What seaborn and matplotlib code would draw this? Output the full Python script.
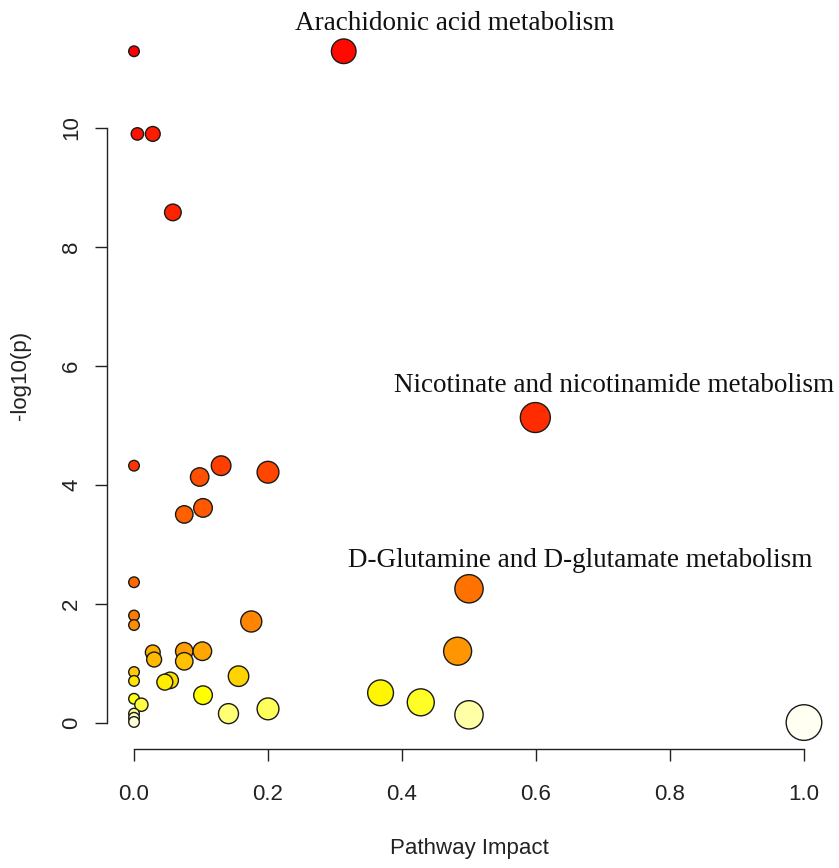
import colorsys

import numpy as np
import pandas as pd
import matplotlib
matplotlib.use("Agg")
import matplotlib.pyplot as plt
import seaborn as sns

# Pathway impact (x) and -log10(p) (y)
impact = [0.000, 0.313, 0.005, 0.028, 0.058, 0.599, 0.000, 0.130, 0.200, 0.098,
          0.103, 0.075, 0.000, 0.500, 0.000, 0.175, 0.000, 0.483, 0.075, 0.102,
          0.028, 0.030, 0.075, 0.000, 0.156, 0.000, 0.054, 0.046, 0.368, 0.103,
          0.000, 0.428, 0.011, 0.200, 0.141, 0.500, 0.000, 0.000, 0.000, 1.000]
neg_log_p = [11.29, 11.29, 9.90, 9.90, 8.58, 5.13, 4.32, 4.32, 4.21, 4.13,
             3.61, 3.50, 2.36, 2.25, 1.80, 1.70, 1.64, 1.20, 1.20, 1.20,
             1.18, 1.06, 1.03, 0.85, 0.78, 0.70, 0.71, 0.68, 0.50, 0.46,
             0.40, 0.34, 0.30, 0.23, 0.15, 0.13, 0.15, 0.08, 0.01, 0.00]

# labelled pathways: name, label x, label baseline y
label_names = ["Arachidonic acid metabolism",
               "Nicotinate and nicotinamide metabolism",
               "D-Glutamine and D-glutamate metabolism"]
label_x = [0.478, 0.717, 0.666]
label_y = [11.65, 5.56, 2.62]

x_ticks = [0.0, 0.2, 0.4, 0.6, 0.8, 1.0]
y_ticks = [0, 2, 4, 6, 8, 10]


def heat_colors(n):
    # same palette as R's heat.colors(n)
    j = n // 4
    i = n - j
    cols = []
    for k in range(i):
        h = (k / (i - 1)) / 6 if i > 1 else 0
        cols.append(colorsys.hsv_to_rgb(h, 1, 1))
    if j > 0:
        for s in np.linspace(1 - 1 / (2 * j), 1 / (2 * j), j):
            cols.append(colorsys.hsv_to_rgb(1 / 6, s, 1))
    return cols


df = pd.DataFrame({"impact": impact, "neglogp": neg_log_p})
df["rank"] = df["neglogp"].rank(method="first", ascending=False).astype(int)
palette = dict(zip(range(1, len(df) + 1), heat_colors(len(df))))

# bubble radius grows with sqrt(impact) on top of a minimum size
edge_lw = 1.0
size_map = {}
for v in df["impact"].unique():
    d_pt = (12 + 25 * np.sqrt(v)) * 0.72
    size_map[v] = (d_pt - edge_lw) ** 2

sns.set_style("ticks")
plt.rcParams["font.family"] = ["Liberation Sans", "DejaVu Sans"]

fig = plt.figure(figsize=(8.39, 8.68), dpi=100)
ax = fig.add_axes([0.1278, 0.1366, 0.8624, 0.8353])

sns.scatterplot(data=df, x="impact", y="neglogp", hue="rank", palette=palette,
                size="impact", sizes=size_map, edgecolor="#1a1a1a",
                linewidth=edge_lw, legend=False, ax=ax, zorder=3)

for name, lx, ly in zip(label_names, label_x, label_y):
    ax.text(lx, ly, name, ha="center", va="baseline", fontsize=19.5,
            family=["Liberation Serif", "DejaVu Serif"], color="#111111",
            clip_on=False)

ax.set_xlim(-0.04, 1.04)
ax.set_ylim(-0.452, 11.742)

# R style axes: spines only over the tick range
sns.despine(ax=ax)
ax.spines["left"].set_bounds(0, 10)
ax.spines["bottom"].set_bounds(0, 1)
for sp in ("left", "bottom"):
    ax.spines[sp].set_color("#222222")
    ax.spines[sp].set_linewidth(1.0)

ax.set_xticks(x_ticks)
ax.set_xticklabels([f"{t:.1f}" for t in x_ticks])
ax.set_yticks(y_ticks)
ax.set_yticklabels([str(t) for t in y_ticks], rotation=90, va="center")
ax.tick_params(axis="both", direction="out", length=8.9, width=1.0,
               color="#222222", labelsize=16, labelcolor="#222222",
               bottom=True, left=True)
ax.tick_params(axis="x", pad=16)
ax.tick_params(axis="y", pad=9)

ax.set_xlabel("Pathway Impact", fontsize=16, color="#222222")
ax.set_ylabel("-log10(p)", fontsize=16, color="#222222")
ax.xaxis.set_label_coords(0.5, -0.136)
ax.xaxis.label.set_va("center")
ax.yaxis.set_label_coords(-0.1205, 0.516)
ax.yaxis.label.set_va("center")

fig.savefig("out.png", dpi=100, facecolor="white")
